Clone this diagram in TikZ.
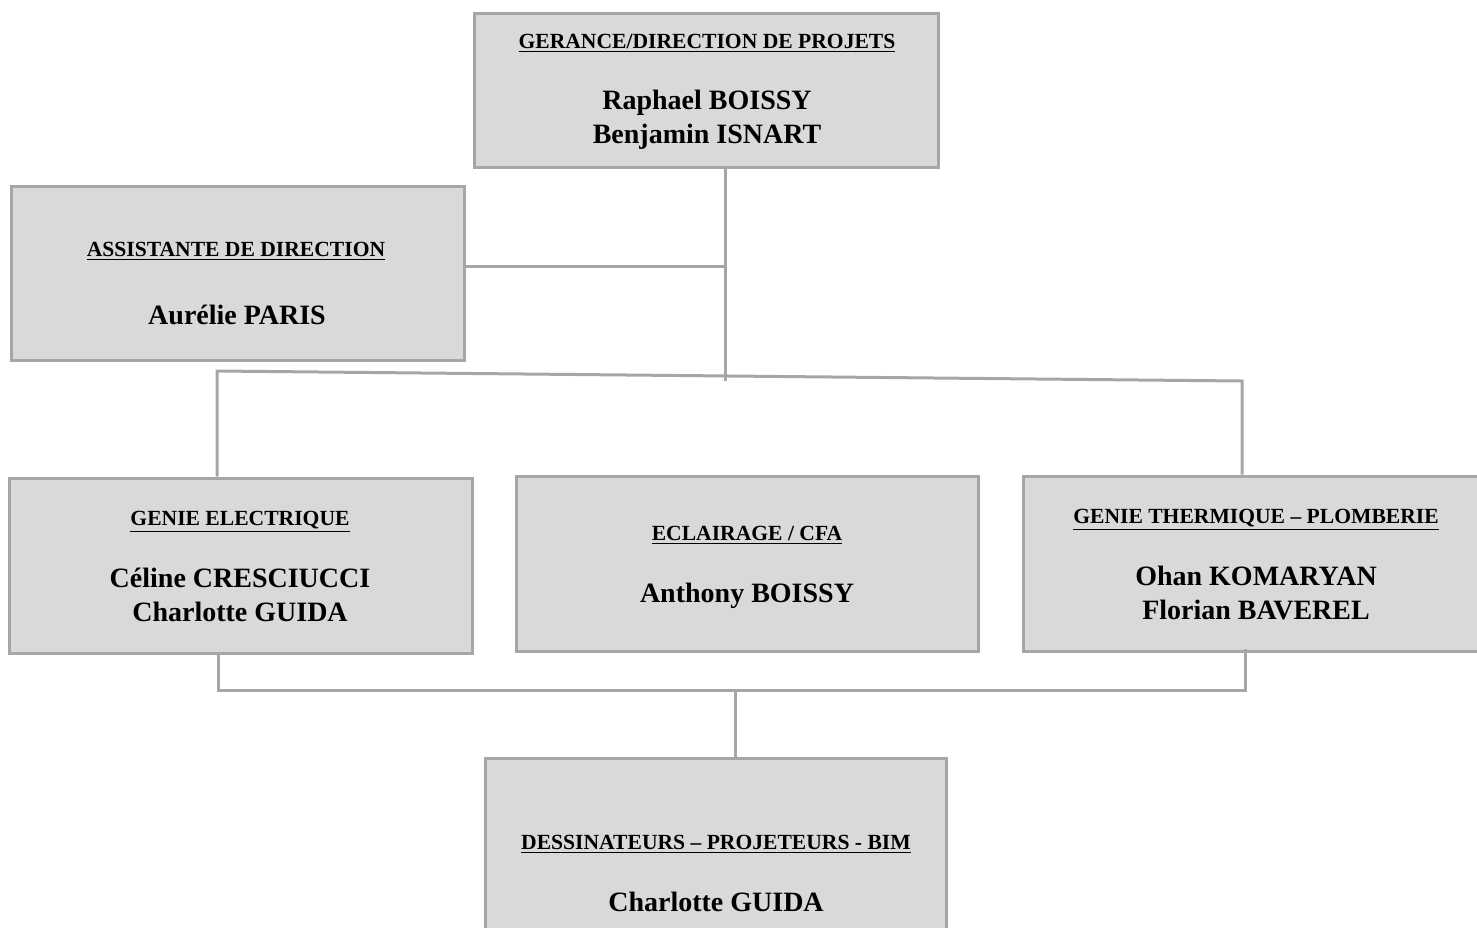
\documentclass[tikz,border=0pt]{standalone}
\usepackage{fontspec}
\setmainfont{Liberation Serif}
\definecolor{boxfill}{HTML}{D9D9D9}
\definecolor{linegray}{HTML}{A6A6A6}
\tikzset{
  box/.style={draw=linegray, line width=1.5pt, fill=boxfill, rectangle, inner sep=0pt},
  conn/.style={draw=linegray, line width=1.5pt},
  ttl/.style={font=\bfseries\fontsize{10.8}{13}\selectfont, inner sep=0pt, anchor=base},
  nm/.style={font=\bfseries\fontsize{14}{17}\selectfont, inner sep=0pt, anchor=base, align=center}
}
\newcommand{\ul}[1]{\underline{#1}}
\begin{document}
\begin{tikzpicture}[x=0.5pt,y=-0.5pt]
\useasboundingbox (0,0) rectangle (1477,927);
\clip (0,0) rectangle (1477,927);
% boxes
\node[box, minimum width=232pt, minimum height=77pt] (top) at (706,90) {};
\node[box, minimum width=226.5pt, minimum height=87pt] (assist) at (237.5,273) {};
\node[box, minimum width=231.5pt, minimum height=87.5pt] (elec) at (240.5,565.5) {};
\node[box, minimum width=231pt, minimum height=87.5pt] (ecl) at (747,563.5) {};
\node[box, minimum width=229pt, minimum height=87.5pt] (therm) at (1252,563.5) {};
\node[box, minimum width=230.5pt, minimum height=100pt] (dess) at (715.5,858) {};
% texts
\node[ttl] (t1) at (707,48) {\ul{GERANCE/DIRECTION DE PROJETS}};
\node[nm] (n1a) at (707,109) {Raphael BOISSY};
\node[nm] (n1b) at (707,143) {Benjamin ISNART};
\node[ttl] (t2) at (236,256) {\ul{ASSISTANTE DE DIRECTION}};
\node[nm] (n2) at (237,324) {Aurélie PARIS};
\node[ttl] (t3) at (240,525) {\ul{GENIE ELECTRIQUE}};
\node[nm] (n3a) at (240,587) {Céline CRESCIUCCI};
\node[nm] (n3b) at (240,621) {Charlotte GUIDA};
\node[ttl] (t4) at (747,540) {\ul{ECLAIRAGE / CFA}};
\node[nm] (n4) at (747,602) {Anthony BOISSY};
\node[ttl] (t5) at (1256,523) {\ul{GENIE THERMIQUE – PLOMBERIE}};
\node[nm] (n5a) at (1256,585) {Ohan KOMARYAN};
\node[nm] (n5b) at (1256,619) {Florian BAVEREL};
\node[ttl] (t6) at (716,849) {\ul{DESSINATEURS – PROJETEURS - BIM}};
\node[nm] (n6) at (716,911) {Charlotte GUIDA};
% connectors
\coordinate (j1) at (725,381);
\coordinate (j0) at (725,266);
\coordinate (l) at (217,371);
\coordinate (r) at (1242,381);
\coordinate (bl) at (218,690);
\coordinate (br) at (1245,690);
\coordinate (bm) at (735,690);
\draw[conn] (top.south -| j1) -- (j1);
\draw[conn] (assist.east |- j0) -- (j0);
\draw[conn] (elec.north -| l) -- (l) -- (r) -- (therm.north -| r);
\draw[conn] (elec.south -| bl) -- (bl) -- (br) -- ([yshift=2pt]therm.south -| br);
\draw[conn] (bm) -- (dess.north -| bm);
\end{tikzpicture}
\end{document}
